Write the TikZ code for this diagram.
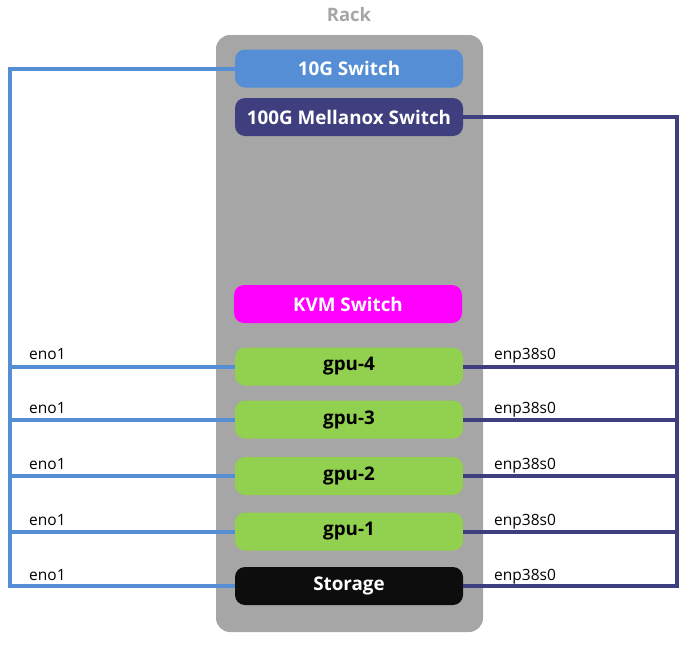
\documentclass[tikz,border=0pt]{standalone}
\usepackage{fontspec}
\setmainfont{Open Sans}
\begin{document}
\begin{tikzpicture}[x=1pt,y=-1pt,
  dev/.style={rounded corners=10pt, minimum width=228pt, minimum height=38pt, inner sep=0pt,
    font=\bfseries\fontsize{18.8}{21}\selectfont, text=white},
  lan/.style={line width=4pt, draw=blueline},
  ib/.style={line width=4pt, draw=ibline},
  port/.style={font=\fontsize{15.5}{17}\selectfont, text=black, inner sep=0pt, anchor=base west}]
\definecolor{rackgray}{HTML}{A6A6A6}
\definecolor{blueline}{HTML}{558ED5}
\definecolor{ibline}{HTML}{3F3F7F}
\definecolor{kvm}{HTML}{FF00FF}
\definecolor{gpugreen}{HTML}{92D050}
\definecolor{stor}{HTML}{0D0D0D}
\useasboundingbox (0,0) rectangle (693,645);
% rack
\fill[rackgray, rounded corners=14pt] (216,35) rectangle (483,632);
\node[font=\bfseries\fontsize{18.5}{21}\selectfont, text=rackgray] (rack) at (349,15) {Rack};
% devices
\node[dev, fill=blueline] (sw10) at (349,68.5) {10G Switch};
\node[dev, fill=ibline] (sw100) at (349,117) {100G Mellanox Switch};
\node[dev, fill=kvm] (kvm) at (348,304) {KVM Switch};
\node[dev, fill=gpugreen, text=black] (g4) at (349,366.5) {gpu-4};
\node[dev, fill=gpugreen, text=black] (g3) at (349,419.5) {gpu-3};
\node[dev, fill=gpugreen, text=black] (g2) at (349,476) {gpu-2};
\node[dev, fill=gpugreen, text=black] (g1) at (349,531.5) {gpu-1};
\node[dev, fill=stor] (st) at (349,586) {Storage};
% bus coordinates
\coordinate (lx) at (10,0);
\coordinate (rx) at (677,0);
% 10G network
\draw[lan] (sw10.west) -- (sw10.west -| lx) -- (st.west -| lx) -- (st.west);
\foreach \n in {g4,g3,g2,g1} \draw[lan] (\n.west) -- (\n.west -| lx);
% 100G network
\draw[ib] (sw100.east) -- (sw100.east -| rx) -- (st.east -| rx) -- (st.east);
\foreach \n in {g4,g3,g2,g1} \draw[ib] (\n.east) -- (\n.east -| rx);
% port labels
\foreach \n/\y in {g4/359,g3/413,g2/469,g1/525,st/580}{
  \node[port] (eno\n) at (29,\y) {eno1};
  \node[port] (enp\n) at (494,\y) {enp38s0};
}
\end{tikzpicture}
\end{document}
